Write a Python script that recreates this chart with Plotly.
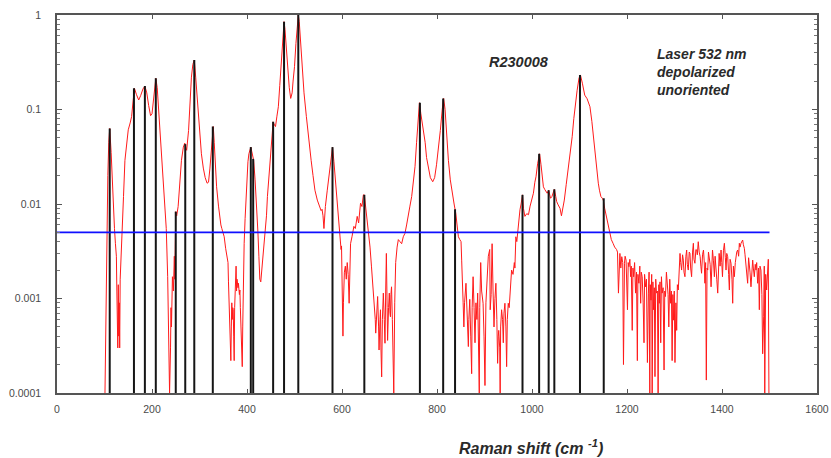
import plotly.graph_objects as go

# Raman spectrum of R230008 (532 nm, depolarized, unoriented): shift (cm-1) and normalized intensity
shift = [
    101, 104, 107, 109, 111, 114, 118, 121, 123, 125, 126, 127, 128, 129, 130, 131, 132, 133, 135, 137,
    140, 143, 147, 150, 154, 157, 160, 163, 167, 172, 176, 181, 185, 189, 193, 197, 200, 204, 208, 211,
    214, 217, 220, 224, 227, 230, 233, 235, 236, 237, 239, 240, 241, 243, 245, 247, 248, 250, 252, 255,
    258, 262, 266, 269, 271, 273, 277, 280, 283, 286, 289, 292, 295, 297, 300, 304, 308, 312, 316, 319,
    322, 325, 327, 329, 331, 334, 336, 340, 343, 345, 347, 350, 352, 355, 358, 360, 361, 362, 363, 364,
    365, 366, 367, 368, 369, 370, 371, 372, 373, 374, 375, 377, 378, 379, 381, 382, 384, 385, 386, 388,
    390, 391, 392, 394, 396, 399, 402, 404, 406, 408, 410, 412, 414, 417, 420, 423, 425, 427, 429, 431,
    434, 436, 438, 441, 443, 446, 450, 453, 455, 457, 460, 463, 466, 469, 473, 476, 478, 480, 483, 486,
    489, 492, 495, 497, 500, 503, 506, 508, 510, 513, 516, 520, 525, 530, 535, 539, 543, 548, 553, 556,
    558, 560, 562, 563, 565, 569, 572, 576, 580, 583, 587, 590, 594, 596, 598, 599, 600, 601, 602, 603,
    605, 607, 609, 611, 613, 615, 616, 618, 621, 625, 628, 632, 635, 639, 642, 645, 647, 650, 653, 656,
    659, 662, 665, 668, 670, 671, 673, 675, 677, 678, 680, 681, 682, 683.5, 685, 687, 689, 690.5, 692, 693.4,
    695, 696, 698, 699.6, 701, 702, 703, 704.3, 706, 707, 709, 711, 713, 716, 718.6, 722, 725.6, 729, 732.6, 736,
    739.6, 743, 746.7, 750, 753.7, 757, 760, 763, 766, 771, 775, 778, 782, 786, 791, 795, 799, 803, 807, 811,
    814, 817, 820, 824, 828, 832.5, 836, 839.5, 842, 845, 848, 850.6, 852, 853, 855, 856.6, 858, 861, 863, 866,
    867, 869, 871, 873, 874, 876, 878, 880, 882, 884, 885.6, 887, 889, 890, 892, 894, 897, 899, 901, 903,
    906, 908, 911, 912, 914, 916, 918, 920, 922, 924, 926, 927.6, 929, 930, 932, 933, 934, 936, 938, 939.6,
    941, 943, 945, 946.6, 948, 950, 952, 953.7, 955, 957, 960, 962.8, 964, 966, 968, 971, 974.7, 977, 980, 982,
    985, 989, 992.6, 996, 1000, 1003, 1006, 1008.4, 1012, 1016, 1019, 1022, 1024, 1027, 1029.5, 1032, 1035, 1037, 1039, 1042,
    1045, 1047, 1050, 1052, 1055, 1059, 1062, 1065, 1068, 1072, 1076, 1080, 1084.6, 1088, 1091.6, 1095, 1099, 1102, 1106, 1111,
    1116, 1122, 1126, 1129, 1133, 1136, 1139.6, 1142, 1145, 1148, 1150, 1153, 1157, 1161, 1164, 1167, 1171, 1174, 1178, 1180,
    1182, 1183.5, 1185, 1187, 1189, 1191, 1192.6, 1194.7, 1196, 1198, 1199.5, 1201, 1202.5, 1204, 1206, 1207.7, 1209, 1211, 1212.5, 1214,
    1216, 1218, 1220, 1221.8, 1223, 1225, 1227, 1228.8, 1230, 1232, 1234, 1235.8, 1237, 1239, 1241, 1243, 1245, 1246.5, 1248, 1249,
    1250.5, 1252, 1253, 1254.5, 1256, 1257.5, 1258.9, 1260.5, 1262, 1264, 1265.5, 1267, 1268, 1269.5, 1271, 1272.5, 1274, 1276, 1278, 1279.5,
    1281, 1283, 1285, 1286.5, 1288, 1290, 1291.8, 1293.5, 1295, 1296.5, 1298, 1299.5, 1301, 1303, 1304.6, 1306, 1308, 1310, 1311.6, 1313,
    1315, 1317, 1318.6, 1320, 1322, 1324, 1325.6, 1327, 1329, 1331, 1332.6, 1334, 1336, 1338, 1339.7, 1341, 1343, 1345, 1346.7, 1348,
    1350, 1352, 1354, 1355.5, 1357, 1359, 1361, 1362.5, 1364, 1365.5, 1367, 1368.5, 1370, 1371.5, 1373.4, 1375, 1377, 1378.5, 1380, 1382,
    1384, 1385.5, 1387, 1389, 1391, 1392.5, 1394, 1396, 1398, 1399.5, 1401, 1403, 1405, 1407, 1408.5, 1410, 1412, 1414, 1415.5, 1417,
    1419, 1421, 1422.5, 1424, 1426, 1428, 1429.5, 1431, 1433, 1435, 1436.5, 1438, 1440, 1442, 1443.5, 1445, 1447, 1448.5, 1450, 1452,
    1454, 1456, 1457.5, 1459, 1461, 1463, 1464.6, 1466, 1468, 1470, 1471.6, 1473, 1475, 1477, 1478.6, 1480, 1482, 1484, 1485.6, 1487.7,
    1489, 1490, 1492, 1494, 1496, 1497.5, 1498.8,
]
intensity = [
    0.0001, 0.002, 0.02, 0.045, 0.063, 0.035, 0.009, 0.0055, 0.0038, 0.0028, 0.0012, 0.0005, 0.0003, 0.0014, 0.0004, 0.0009, 0.0003, 0.0016, 0.0026, 0.0045,
    0.012, 0.029, 0.045, 0.061, 0.072, 0.084, 0.12, 0.168, 0.145, 0.126, 0.14, 0.165, 0.177, 0.15, 0.11, 0.086, 0.09, 0.15, 0.214, 0.17,
    0.1, 0.066, 0.04, 0.02, 0.011, 0.0055, 0.0017, 0.0006, 0.00024, 0.0001, 0.0003, 0.0008, 0.0005, 0.0017, 0.0012, 0.0028, 0.0016, 0.0083, 0.0075, 0.0094,
    0.015, 0.029, 0.04, 0.044, 0.04, 0.037, 0.06, 0.12, 0.22, 0.3, 0.334, 0.22, 0.13, 0.099, 0.06, 0.034, 0.024, 0.019, 0.0166, 0.017,
    0.024, 0.037, 0.05, 0.066, 0.045, 0.022, 0.0152, 0.0095, 0.0068, 0.006, 0.0055, 0.0049, 0.0045, 0.0034, 0.0028, 0.0024, 0.0015, 0.0009, 0.0012, 0.0007,
    0.0004, 0.00022, 0.0005, 0.0009, 0.0006, 0.0008, 0.00076, 0.0004, 0.00022, 0.0008, 0.0014, 0.0022, 0.0012, 0.0016, 0.0013, 0.00145, 0.0011, 0.00123, 0.0008, 0.0004,
    0.00019, 0.0005, 0.0012, 0.0038, 0.007, 0.0166, 0.028, 0.034, 0.036, 0.040, 0.036, 0.032, 0.029, 0.018, 0.0102, 0.005, 0.0028, 0.0016, 0.0015, 0.002,
    0.0025, 0.0033, 0.0045, 0.0075, 0.012, 0.019, 0.034, 0.055, 0.074, 0.07, 0.066, 0.085, 0.107, 0.18, 0.334, 0.6, 0.85, 0.7, 0.42, 0.26,
    0.17, 0.131, 0.15, 0.2, 0.284, 0.5, 0.85, 1.0, 0.85, 0.5, 0.284, 0.15, 0.084, 0.045, 0.029, 0.02, 0.014, 0.011, 0.009, 0.0085,
    0.0088, 0.0075, 0.0055, 0.0075, 0.0094, 0.014, 0.0194, 0.03, 0.040, 0.028, 0.0166, 0.01, 0.0058, 0.0042, 0.0033, 0.0036, 0.002, 0.0008, 0.0004, 0.0009,
    0.0019, 0.0022, 0.0016, 0.0024, 0.0018, 0.00089, 0.0015, 0.0038, 0.0045, 0.0058, 0.0055, 0.0074, 0.0063, 0.0102, 0.0094, 0.0125, 0.0125, 0.009, 0.0068, 0.0055,
    0.0035, 0.0022, 0.0014, 0.00089, 0.0006, 0.00043, 0.0009, 0.00105, 0.0005, 0.000285, 0.0006, 0.00076, 0.0003, 0.000148, 0.0006, 0.00114, 0.0006, 0.000336, 0.0012, 0.003,
    0.0008, 0.00036, 0.0008, 0.00114, 0.0007, 0.00064, 0.0011, 0.00133, 0.0006, 0.0003, 0.0001, 0.0009, 0.0024, 0.0035, 0.0042, 0.004, 0.0038, 0.0045, 0.0049, 0.006,
    0.008, 0.0095, 0.012, 0.017, 0.0248, 0.045, 0.08, 0.118, 0.09, 0.061, 0.045, 0.031, 0.023, 0.019, 0.0172, 0.019, 0.026, 0.037, 0.06, 0.1,
    0.131, 0.1, 0.055, 0.029, 0.018, 0.012, 0.01, 0.008, 0.006, 0.0045, 0.0042, 0.0040, 0.0025, 0.00133, 0.0009, 0.0005, 0.0009, 0.00145, 0.0007, 0.00031,
    0.0006, 0.00098, 0.0004, 0.00016, 0.0008, 0.0017, 0.0008, 0.00034, 0.0009, 0.0006, 0.00114, 0.0004, 0.0001, 0.0008, 0.0024, 0.0012, 0.00089, 0.0004, 0.00012, 0.0009,
    0.002, 0.0028, 0.0033, 0.00076, 0.0011, 0.0038, 0.0012, 0.0005, 0.001, 0.00145, 0.0006, 0.000206, 0.0004, 0.00046, 0.0003, 0.0001, 0.0005, 0.00076, 0.0006, 0.00034,
    0.0007, 0.00089, 0.0005, 0.00019, 0.0006, 0.00089, 0.0008, 0.00123, 0.0015, 0.002, 0.0018, 0.0024, 0.0021, 0.0045, 0.004, 0.0058, 0.0087, 0.01, 0.0125, 0.009,
    0.0074, 0.0079, 0.0077, 0.0095, 0.011, 0.013, 0.017, 0.0194, 0.027, 0.034, 0.026, 0.018, 0.0152, 0.0142, 0.0135, 0.013, 0.014, 0.012, 0.0115, 0.012,
    0.013, 0.0143, 0.012, 0.0106, 0.0098, 0.009, 0.0075, 0.0088, 0.011, 0.016, 0.023, 0.034, 0.0515, 0.08, 0.118, 0.16, 0.215, 0.232, 0.19, 0.142,
    0.13, 0.107, 0.075, 0.0515, 0.032, 0.022, 0.0166, 0.014, 0.012, 0.0115, 0.011, 0.009, 0.0074, 0.0058, 0.0049, 0.0042, 0.0038, 0.0035, 0.0033, 0.0031,
    0.00114, 0.0029, 0.0030, 0.0021, 0.00277, 0.0024, 0.0002, 0.00236, 0.0028, 0.00255, 0.0016, 0.00076, 0.0024, 0.00217, 0.0026, 0.0017, 0.0022, 0.00046, 0.0021, 0.0017,
    0.0024, 0.00114, 0.0019, 0.00022, 0.0018, 0.00145, 0.0022, 0.00089, 0.0019, 0.0017, 0.0009, 0.00034, 0.0018, 0.00133, 0.0016, 0.00021, 0.00114, 0.0019, 0.0001, 0.0014,
    0.00096, 0.0018, 0.0001, 0.0015, 0.00076, 0.0013, 0.000149, 0.0016, 0.00114, 0.0012, 0.0001, 0.0014, 0.00089, 0.0015, 0.00034, 0.0017, 0.00114, 0.0013, 0.000175, 0.0012,
    0.00105, 0.0019, 0.00133, 0.0011, 0.0005, 0.0016, 0.00089, 0.0012, 0.00022, 0.0011, 0.00059, 0.0012, 0.00021, 0.0009, 0.00046, 0.0014, 0.00123, 0.0021, 0.0030, 0.0024,
    0.0020, 0.0029, 0.00255, 0.0019, 0.0017, 0.0028, 0.00326, 0.0023, 0.0020, 0.0031, 0.0030, 0.0021, 0.0017, 0.0031, 0.00384, 0.0026, 0.00236, 0.0033, 0.00326, 0.0029,
    0.00399, 0.0031, 0.00277, 0.0022, 0.00185, 0.0029, 0.00326, 0.0025, 0.00145, 0.0024, 0.000137, 0.0021, 0.0020, 0.0031, 0.00277, 0.0023, 0.00133, 0.0027, 0.00326, 0.0025,
    0.0017, 0.0028, 0.00236, 0.0016, 0.00114, 0.0027, 0.0030, 0.0022, 0.00326, 0.0024, 0.0017, 0.0032, 0.00384, 0.0027, 0.0020, 0.0030, 0.00277, 0.0018, 0.00123, 0.0026,
    0.00236, 0.0016, 0.00089, 0.0022, 0.0017, 0.0024, 0.00277, 0.0031, 0.00326, 0.0028, 0.00384, 0.0035, 0.00384, 0.0040, 0.00416, 0.0037, 0.0034, 0.0029, 0.00236, 0.0020,
    0.00145, 0.0027, 0.00236, 0.0019, 0.00133, 0.0024, 0.00255, 0.0021, 0.0017, 0.0023, 0.0020, 0.0024, 0.00145, 0.0021, 0.00076, 0.0022, 0.0020, 0.0011, 0.00026, 0.00064,
    0.0022, 0.0001, 0.0018, 0.00123, 0.0017, 0.0026, 0.0001,
]

# Fitted band positions (cm-1) and their heights
peak_pos = [111, 162, 185, 208, 250, 270, 289, 328, 408, 413, 455, 478,
            508, 580, 647, 764, 813, 838, 980, 1015, 1035, 1047, 1101, 1151]
peak_height = [0.063, 0.168, 0.177, 0.214, 0.0083, 0.043, 0.334, 0.066, 0.040, 0.030, 0.074, 0.85,
               1.0, 0.040, 0.0125, 0.118, 0.131, 0.0088, 0.0125, 0.034, 0.014, 0.0143, 0.232, 0.0115]

# Noise threshold line
threshold_x = [0, 1500]
threshold_y = [0.005, 0.005]

x_ticks = [0, 200, 400, 600, 800, 1000, 1200, 1400, 1600]
y_ticks = [0.0001, 0.001, 0.01, 0.1, 1]
y_tick_text = ["0.0001", "0.001", "0.01", "0.1", "1"]
y_base = 0.0001

FONT = "Liberation Sans, Arial, sans-serif"

fig = go.Figure()

fig.add_trace(go.Scatter(
    x=shift, y=intensity, mode="lines",
    line=dict(color="#ff1a1a", width=1), hoverinfo="skip",
))

# stick lines from the baseline up to each band height
stick_x, stick_y = [], []
for p, h in zip(peak_pos, peak_height):
    stick_x += [p, p, None]
    stick_y += [y_base, h, None]
fig.add_trace(go.Scatter(
    x=stick_x, y=stick_y, mode="lines",
    line=dict(color="#151515", width=2), hoverinfo="skip",
))

fig.add_trace(go.Scatter(
    x=threshold_x, y=threshold_y, mode="lines",
    line=dict(color="#1010ff", width=1.8), hoverinfo="skip",
))

fig.update_layout(
    width=831, height=458,
    margin=dict(l=57, r=14, t=15, b=65),
    paper_bgcolor="white", plot_bgcolor="white",
    showlegend=False,
    font=dict(family=FONT, color="#4a4a4a", size=11),
    xaxis=dict(
        range=[0, 1600], tickvals=x_ticks, ticks="inside", ticklen=4,
        tickcolor="#555", showgrid=False, zeroline=False, automargin=False,
        showline=True, linecolor="#555", linewidth=1.5, mirror="ticks",
        tickfont=dict(size=10.5, color="#4a4a4a"), ticklabelstandoff=6,
    ),
    yaxis=dict(
        type="log", range=[-4, 0], tickvals=y_ticks, ticktext=y_tick_text,
        ticks="inside", ticklen=5, tickcolor="#555",
        minor=dict(dtick="D1", ticks="inside", ticklen=3, tickcolor="#777"),
        showgrid=False, zeroline=False, automargin=False,
        showline=True, linecolor="#555", linewidth=1.5, mirror="ticks",
        tickfont=dict(size=10.5, color="#4a4a4a"), ticklabelstandoff=12,
    ),
    annotations=[
        dict(text="<b><i>R230008</i></b>", xref="paper", yref="paper",
             x=0.608, y=0.876, xanchor="center", yanchor="middle", showarrow=False,
             font=dict(family=FONT, size=14.5, color="#2a2a2a")),
        dict(text="<b><i>Laser 532 nm<br>depolarized<br>unoriented</i></b>",
             xref="paper", yref="paper", x=0.787, y=0.849, xanchor="left", yanchor="middle",
             align="left", showarrow=False,
             font=dict(family=FONT, size=14, color="#2a2a2a")),
        dict(text="<b><i>Raman shift (cm <sup>-1</sup>)</i></b>", xref="paper", yref="paper",
             x=0.624, y=-0.143, xanchor="center", yanchor="middle", showarrow=False,
             font=dict(family=FONT, size=16, color="#2a2a2a")),
    ],
)

fig.write_html("out.html")
